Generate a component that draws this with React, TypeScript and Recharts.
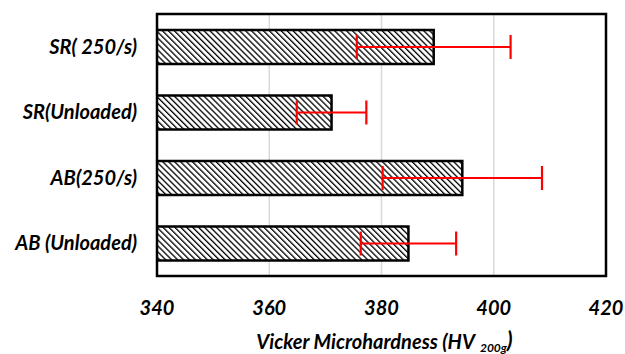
import React from 'react';
import { BarChart, Bar, XAxis, YAxis, CartesianGrid, ErrorBar, ReferenceArea } from 'recharts';

const FONT = 'Lato, "Open Sans", sans-serif';

const samples = ['SR( 250/s)', 'SR(Unloaded)', 'AB(250/s)', 'AB (Unloaded)'];
const hardness = [389.3, 371.1, 394.4, 384.8];
const spread = [13.7, 6.2, 14.2, 8.5];
const xTicks = [340, 360, 380, 400, 420];

const data = samples.map((s, i) => ({ name: s, hv: hardness[i], err: spread[i] }));

function AxisTitle(props: any) {
    const vb = props.viewBox || {};
    const cx = vb.x + vb.width / 2 + 3;
    return (
        <text x={cx} y={349} textAnchor="middle" fontFamily={FONT} fontSize={20} fontWeight={700} fontStyle="italic" fill="#000">
            Vicker Microhardness (HV
            <tspan fontSize={12} dy={3} dx={5}>200g</tspan>
            <tspan fontSize={22} dy={-4}>)</tspan>
        </text>
    );
}

export default function App() {
    return (
        <div style={{ position: 'absolute', left: 0, top: 0, background: '#fff' }}>
            <BarChart
                width={625}
                height={354}
                data={data}
                layout="vertical"
                margin={{ top: 14, right: 19, bottom: 48, left: 0 }}
            >
                <defs>
                    <pattern id="hatch" patternUnits="userSpaceOnUse" width={4.2} height={10} patternTransform="rotate(-45)">
                        <rect x={0} y={0} width={4.2} height={10} fill="#fff" />
                        <rect x={0} y={0} width={1.3} height={10} fill="#000" />
                    </pattern>
                </defs>
                <CartesianGrid horizontal={false} stroke="#d9d9d9" strokeWidth={1.5} />
                <XAxis
                    type="number"
                    domain={[340, 420]}
                    ticks={xTicks}
                    allowDataOverflow
                    axisLine={false}
                    tickLine={false}
                    tickMargin={19}
                    tick={{ fontSize: 20, fontWeight: 700, fontStyle: 'italic', fill: '#000', fontFamily: FONT }}
                    label={{ content: AxisTitle }}
                />
                <YAxis
                    type="category"
                    dataKey="name"
                    width={157}
                    axisLine={false}
                    tickLine={false}
                    tickMargin={14}
                    tick={{ fontSize: 20, fontWeight: 700, fontStyle: 'italic', fill: '#000', fontFamily: FONT }}
                />
                <Bar dataKey="hv" barSize={34} fill="url(#hatch)" stroke="#000" strokeWidth={2.5} isAnimationActive={false}>
                    <ErrorBar dataKey="err" direction="x" width={12} stroke="#ff0000" strokeWidth={2.2} />
                </Bar>
                <ReferenceArea x1={340} x2={420} fill="none" stroke="#000" strokeWidth={2.5} ifOverflow="visible" />
            </BarChart>
        </div>
    );
}
